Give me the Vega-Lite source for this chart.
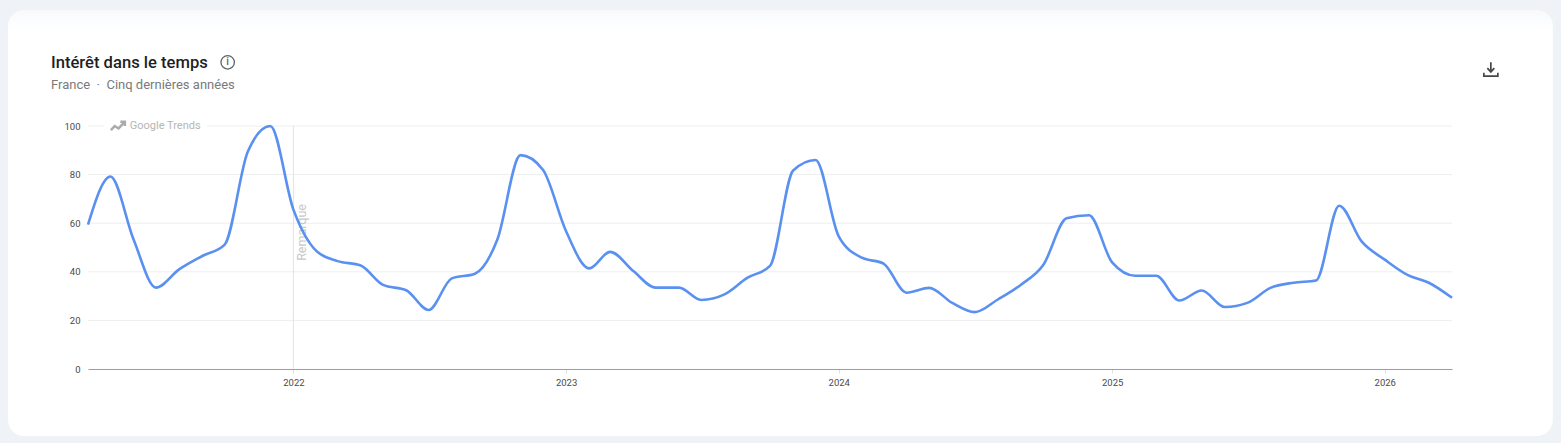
{
"$schema":"https://vega.github.io/schema/vega-lite/v6.json",
"width":1364,"height":243,
"autosize":{"type":"none"},
"padding":{"left":88,"top":126,"right":109,"bottom":74},
"background":"#eff3f8",
"config":{"view":{"stroke":null},"font":"Roboto"},
"title":{"text":"Intérêt dans le temps","subtitle":"France\u00a0\u00a0·\u00a0\u00a0Cinq dernières années","anchor":"start","frame":"group","dx":-37,"offset":-82,"font":"Roboto","fontSize":16.6,"fontWeight":500,"color":"#1f1f1f","subtitleFont":"Roboto","subtitleFontSize":13,"subtitleColor":"#7a7a7a","subtitlePadding":7},
"datasets":{"one":[{"note":"annotation"}]},
"data":{"values":[
{"date":"2021-04-01","value":59.4},{"date":"2021-05-01","value":79.2},{"date":"2021-06-01","value":53.3},{"date":"2021-07-01","value":33.5},{"date":"2021-08-01","value":41},{"date":"2021-09-01","value":46.5},{"date":"2021-10-01","value":51.2},{"date":"2021-11-01","value":89.5},{"date":"2021-12-01","value":100},
{"date":"2022-01-01","value":65.6},{"date":"2022-02-01","value":48.5},{"date":"2022-03-01","value":44.4},{"date":"2022-04-01","value":42.6},{"date":"2022-05-01","value":34.6},{"date":"2022-06-01","value":32.4},{"date":"2022-07-01","value":24.3},{"date":"2022-08-01","value":37.3},{"date":"2022-09-01","value":39.2},{"date":"2022-10-01","value":53.3},{"date":"2022-11-01","value":88},{"date":"2022-12-01","value":82},
{"date":"2023-01-01","value":56.7},{"date":"2023-02-01","value":41.4},{"date":"2023-03-01","value":48.2},{"date":"2023-04-01","value":40.3},{"date":"2023-05-01","value":33.5},{"date":"2023-06-01","value":33.5},{"date":"2023-07-01","value":28.4},{"date":"2023-08-01","value":30.7},{"date":"2023-09-01","value":37.6},{"date":"2023-10-01","value":42.4},{"date":"2023-11-01","value":81.7},{"date":"2023-12-01","value":86},
{"date":"2024-01-01","value":54.6},{"date":"2024-02-01","value":45.8},{"date":"2024-03-01","value":43.4},{"date":"2024-04-01","value":31.4},{"date":"2024-05-01","value":33.4},{"date":"2024-06-01","value":27.2},{"date":"2024-07-01","value":23.4},{"date":"2024-08-01","value":28.6},{"date":"2024-09-01","value":34.7},{"date":"2024-10-01","value":42.9},{"date":"2024-11-01","value":62},{"date":"2024-12-01","value":63.3},
{"date":"2025-01-01","value":43.9},{"date":"2025-02-01","value":38.4},{"date":"2025-03-01","value":38.4},{"date":"2025-04-01","value":28.2},{"date":"2025-05-01","value":32.3},{"date":"2025-06-01","value":25.5},{"date":"2025-07-01","value":27.2},{"date":"2025-08-01","value":33.4},{"date":"2025-09-01","value":35.5},{"date":"2025-10-01","value":36.4},{"date":"2025-11-01","value":67.2},{"date":"2025-12-01","value":52.5},
{"date":"2026-01-01","value":45},{"date":"2026-02-01","value":38.6},{"date":"2026-03-01","value":35.5},{"date":"2026-04-01","value":29.3}
]},
"layer":[
{"data":{"name":"one"},"mark":{"type":"rect","cornerRadius":16,"clip":false,"fill":{"gradient":"linear","x1":0,"y1":0,"x2":0,"y2":1,"stops":[{"offset":0,"color":"#f7f9fb"},{"offset":0.045,"color":"#ffffff"},{"offset":1,"color":"#ffffff"}]}},
 "encoding":{"x":{"datum":{"year":2020,"month":12,"date":15},"type":"temporal"},"x2":{"datum":{"year":2026,"month":8,"date":14}},"y":{"datum":147.7,"type":"quantitative"},"y2":{"datum":-27.6}}},
{"data":{"values":[{"level":20},{"level":40},{"level":60},{"level":80},{"level":100}]},
 "mark":{"type":"rule","color":"#eeeeee","strokeWidth":1},
 "encoding":{"y":{"field":"level","type":"quantitative"}}},
{"data":{"name":"one"},"mark":{"type":"rule","color":"#e3e3e3","strokeWidth":1},
 "encoding":{"x":{"datum":{"year":2022,"month":1,"date":1},"type":"temporal"},"y":{"datum":100,"type":"quantitative"},"y2":{"datum":0}}},
{"data":{"name":"one"},"mark":{"type":"rect","fill":"#ffffff","clip":false},
 "encoding":{"x":{"datum":{"year":2021,"month":4,"date":22},"type":"temporal"},"x2":{"datum":{"year":2021,"month":9,"date":7}},"y":{"datum":97,"type":"quantitative"},"y2":{"datum":103}}},
{"data":{"name":"one"},"mark":{"type":"text","text":"Remarque","angle":270,"align":"left","baseline":"middle","fontSize":12.5,"font":"Roboto","color":"#c8c8c8"},
 "encoding":{"x":{"datum":{"year":2022,"month":1,"date":12},"type":"temporal"},"y":{"datum":44.5,"type":"quantitative"}}},
{"data":{"name":"one"},"mark":{"type":"text","text":"Google Trends","align":"left","baseline":"middle","fontSize":11,"font":"Roboto","color":"#b5b5b5"},
 "encoding":{"x":{"datum":{"year":2021,"month":5,"date":27},"type":"temporal"},"y":{"datum":100,"type":"quantitative"}}},
{"data":{"name":"one"},"mark":{"type":"point","shape":"M-1,0.6L-0.45,0L0.1,0.35L0.95,-0.55M0.35,-0.6L1,-0.6L1,0","filled":false,"stroke":"#ababab","strokeWidth":2.5,"size":196,"opacity":1},
 "encoding":{"x":{"datum":{"year":2021,"month":5,"date":11},"type":"temporal"},"y":{"datum":100,"type":"quantitative"}}},
{"mark":{"type":"line","interpolate":"monotone","color":"#5a91f0","strokeWidth":2.6},
 "encoding":{"x":{"field":"date","type":"temporal","scale":{"domain":[{"year":2021,"month":4,"date":1},{"year":2026,"month":4,"date":1}]},"axis":{"title":null,"values":[{"year":2022,"month":1,"date":1},{"year":2023,"month":1,"date":1},{"year":2024,"month":1,"date":1},{"year":2025,"month":1,"date":1},{"year":2026,"month":1,"date":1}],"format":"%Y","grid":false,"zindex":1,"domainColor":"#9e9e9e","domainWidth":1,"tickColor":"#e0e0e0","tickSize":4,"labelColor":"#4a4a4a","labelFontSize":9.5,"labelFont":"Roboto","labelPadding":4}},
 "y":{"field":"value","type":"quantitative","scale":{"domain":[0,100],"nice":false},"axis":{"title":null,"values":[0,20,40,60,80,100],"grid":false,"zindex":1,"domain":false,"ticks":false,"labelColor":"#4a4a4a","labelFontSize":9.5,"labelFont":"Roboto","labelPadding":8}}}},
{"data":{"name":"one"},"mark":{"type":"point","shape":"circle","filled":false,"stroke":"#5f6368","strokeWidth":1.3,"size":180,"opacity":1},
 "encoding":{"x":{"datum":{"year":2021,"month":10,"date":5},"type":"temporal"},"y":{"datum":126.2,"type":"quantitative"}}},
{"data":{"name":"one"},"mark":{"type":"text","text":"i","align":"center","baseline":"middle","fontSize":10.5,"fontWeight":500,"font":"Roboto","color":"#5f6368"},
 "encoding":{"x":{"datum":{"year":2021,"month":10,"date":5},"type":"temporal"},"y":{"datum":126.2,"type":"quantitative"}}},
{"data":{"name":"one"},"mark":{"type":"point","shape":"M0,-1L0,0.35M-0.5,-0.15L0,0.4L0.5,-0.15M-1,0.5L-1,1L1,1L1,0.5","filled":false,"stroke":"#444746","strokeWidth":1.7,"size":196,"opacity":1},
 "encoding":{"x":{"datum":{"year":2026,"month":5,"date":23},"type":"temporal"},"y":{"datum":123.4,"type":"quantitative"}}}
]
}
